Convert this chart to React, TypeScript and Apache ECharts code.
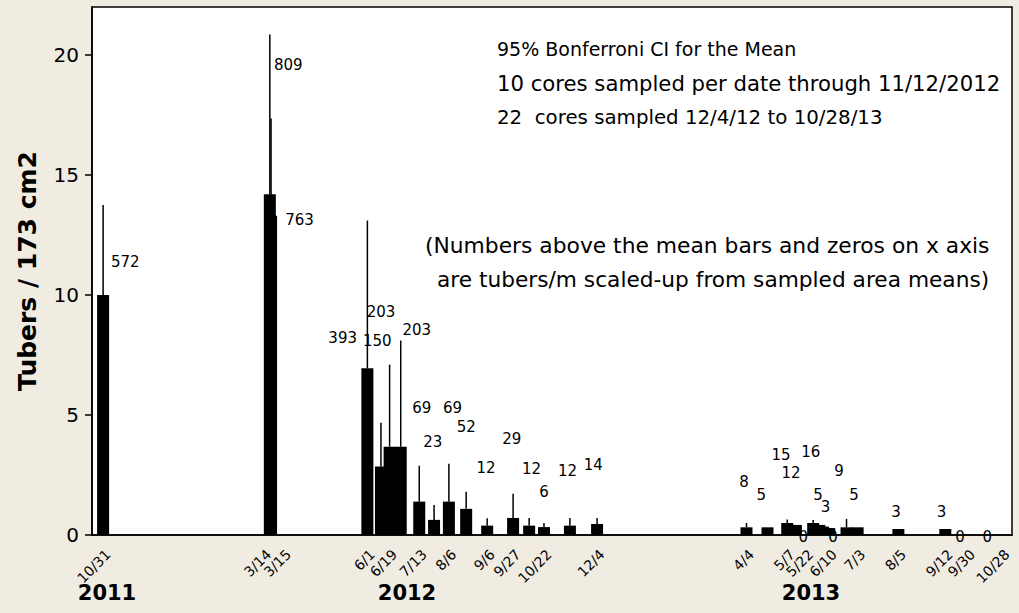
import React, { useEffect, useRef } from "react";
import * as echarts from "echarts";

// ---- data ----
const barDates = [
  "2011-10-31",
  "2012-03-14", "2012-03-15", "2012-06-01", "2012-06-12", "2012-06-19", "2012-06-28",
  "2012-07-13", "2012-07-25", "2012-08-06", "2012-08-20", "2012-09-06", "2012-09-27",
  "2012-10-10", "2012-10-22", "2012-11-12", "2012-12-04",
  "2013-04-04", "2013-04-21", "2013-05-07", "2013-05-14", "2013-05-28", "2013-06-02",
  "2013-06-05", "2013-06-10", "2013-06-24", "2013-07-03", "2013-08-05", "2013-09-12",
];
const barMeans = [
  10.0,
  14.2, 13.3, 6.95, 2.85, 3.68, 3.68,
  1.39, 0.63, 1.39, 1.09, 0.39, 0.71,
  0.39, 0.33, 0.39, 0.46,
  0.32, 0.32, 0.5, 0.42, 0.5, 0.42,
  0.35, 0.29, 0.32, 0.32, 0.25, 0.25,
];
const ciUpper = [
  13.75,
  20.85, 17.35, 13.1, 4.68, 7.1, 8.1,
  2.89, 1.25, 2.97, 1.8, 0.7, 1.72,
  0.71, 0.5, 0.71, 0.71,
  0.5, 0.32, 0.65, 0.42, 0.63, 0.42,
  0.35, 0.29, 0.67, 0.32, 0.25, 0.25,
];

// numbers written above the bars (tubers/m) and where they sit
const valueLabelTexts = [
  "572", "809", "763", "393", "150", "203", "203", "69", "23", "69", "52", "12", "29",
  "12", "6", "12", "14",
  "8", "5", "15", "12", "16", "5", "3", "9", "5", "3", "3", "0", "0", "0", "0",
];
const valueLabelDates = [
  "2011-11-18", "2012-03-29", "2012-04-07", "2012-05-12", "2012-06-09", "2012-06-12", "2012-07-11",
  "2012-07-15", "2012-07-24", "2012-08-09", "2012-08-20", "2012-09-05", "2012-09-26",
  "2012-10-12", "2012-10-22", "2012-11-10", "2012-12-01",
  "2013-04-02", "2013-04-16", "2013-05-02", "2013-05-10", "2013-05-26", "2013-06-01",
  "2013-06-07", "2013-06-18", "2013-06-30", "2013-08-03", "2013-09-09",
  "2013-05-20", "2013-06-13", "2013-09-24", "2013-10-16",
];
const valueLabelY = [
  11.38, 19.6, 13.14, 8.2, 8.08, 9.29, 8.54, 5.31, 3.89, 5.31, 4.48, 2.8, 4.02,
  2.76, 1.8, 2.68, 2.93,
  2.22, 1.67, 3.35, 2.59, 3.47, 1.67, 1.17, 2.68, 1.67, 0.96, 0.96,
  -0.08, -0.08, -0.08, -0.08,
];

// x-axis date labels: text and the date they are anchored at
const tickLabelTexts = [
  "10/31", "3/14", "3/15", "6/1", "6/19", "7/13", "8/6", "9/6", "9/27", "10/22", "12/4",
  "4/4", "5/7", "5/22", "6/10", "7/3", "8/5", "9/12", "9/30", "10/28",
];
const tickLabelDates = [
  "2011-10-31", "2012-03-09", "2012-03-25", "2012-06-01", "2012-06-19", "2012-07-13",
  "2012-08-06", "2012-09-06", "2012-09-27", "2012-10-22", "2012-12-04",
  "2013-04-04", "2013-05-07", "2013-05-22", "2013-06-10", "2013-07-03", "2013-08-05",
  "2013-09-12", "2013-09-30", "2013-10-28",
];

const yTicks = [0, 5, 10, 15, 20];
const yearLabels = ["2011", "2012", "2013"];
const noteLines = [
  "95% Bonferroni CI for the Mean",
  "10 cores sampled per date through 11/12/2012",
  "22  cores sampled 12/4/12 to 10/28/13",
];
const noteLines2 = [
  "(Numbers above the mean bars and zeros on x axis",
  "are tubers/m scaled-up from sampled area means)",
];

const toTs = (s: string) => {
  const [y, m, d] = s.split("-").map(Number);
  return Date.UTC(y, m - 1, d);
};

const FONT = "'DejaVu Sans', Verdana, sans-serif";
const BG = "#f0ece2";

export default function App() {
  const ref = useRef<HTMLDivElement>(null);

  useEffect(() => {
    document.body.style.margin = "0";
    const chart = echarts.init(ref.current!, undefined, { renderer: "svg" });

    const barData = barDates.map((d, i) => [toTs(d), barMeans[i]]);
    const ciData = barDates.map((d, i) => [toTs(d), barMeans[i], ciUpper[i]]);
    const valData = valueLabelDates.map((d, i) => [toTs(d), valueLabelY[i]]);
    const tickData = tickLabelDates.map((d) => [toTs(d), 0]);

    const yearX = [107, 407, 811];
    const noteSizes = [19, 21.2, 19.8];
    const note2Sizes = [21.8, 21.7];

    chart.setOption({
      animation: false,
      backgroundColor: BG,
      textStyle: { fontFamily: FONT },
      grid: {
        left: 92,
        right: 7,
        top: 7,
        bottom: 78,
        show: true,
        backgroundColor: "#ffffff",
        borderColor: "#000",
        borderWidth: 1.5,
      },
      xAxis: {
        type: "value",
        min: toTs("2011-10-22"),
        max: toTs("2013-11-05"),
        axisLine: { show: true, lineStyle: { color: "#000", width: 1.5 } },
        axisTick: { show: false },
        axisLabel: { show: false },
        splitLine: { show: false },
      },
      yAxis: {
        type: "value",
        min: 0,
        max: 22,
        interval: 5,
        name: "Tubers / 173 cm2",
        nameLocation: "middle",
        nameGap: 52,
        nameTextStyle: { fontFamily: FONT, fontSize: 25, fontWeight: "bold", color: "#000" },
        axisLine: { show: true, lineStyle: { color: "#000", width: 1.5 } },
        axisTick: {
          show: true,
          inside: false,
          length: 7,
          customValues: yTicks,
          lineStyle: { color: "#000", width: 1.5 },
        },
        axisLabel: {
          customValues: yTicks,
          fontFamily: FONT,
          fontSize: 20,
          color: "#000",
          margin: 13,
        },
        splitLine: { show: false },
      },
      series: [
        {
          type: "bar",
          data: barData,
          barWidth: 12,
          itemStyle: { color: "#000" },
          z: 2,
        },
        {
          type: "custom",
          data: ciData,
          encode: { x: 0, y: [1, 2] },
          clip: false,
          z: 3,
          renderItem: (params: any, api: any) => {
            const x = api.value(0);
            const lo = api.value(1);
            const hi = api.value(2);
            if (!(hi > lo)) return { type: "group", children: [] };
            const a = api.coord([x, lo]);
            const b = api.coord([x, hi]);
            return {
              type: "line",
              shape: { x1: a[0], y1: a[1], x2: b[0], y2: b[1] },
              style: { stroke: "#000", lineWidth: 1.5 },
            };
          },
        },
        {
          type: "custom",
          data: valData,
          encode: { x: 0, y: 1 },
          clip: false,
          z: 4,
          renderItem: (params: any, api: any) => {
            const p = api.coord([api.value(0), api.value(1)]);
            return {
              type: "text",
              x: p[0],
              y: p[1],
              style: {
                text: valueLabelTexts[params.dataIndex],
                align: "center",
                verticalAlign: "middle",
                font: `15px ${FONT}`,
                fill: "#000",
              },
            };
          },
        },
        {
          type: "custom",
          data: tickData,
          encode: { x: 0, y: 1 },
          clip: false,
          z: 4,
          renderItem: (params: any, api: any) => {
            const p = api.coord([api.value(0), api.value(1)]);
            return {
              type: "text",
              x: p[0] + 5,
              y: p[1] + 17,
              rotation: Math.PI / 4,
              style: {
                text: tickLabelTexts[params.dataIndex],
                align: "right",
                verticalAlign: "middle",
                font: `14px ${FONT}`,
                fill: "#000",
              },
            };
          },
        },
      ],
      graphic: [
        ...yearLabels.map((t, i) => ({
          type: "text",
          x: yearX[i],
          y: 593,
          style: {
            text: t,
            align: "center",
            verticalAlign: "middle",
            font: `bold 21px ${FONT}`,
            fill: "#000",
          },
        })),
        ...noteLines.map((t, i) => ({
          type: "text",
          x: 497,
          y: 49 + i * 34,
          style: {
            text: t,
            align: "left",
            verticalAlign: "middle",
            font: `${noteSizes[i]}px ${FONT}`,
            fill: "#000",
          },
        })),
        ...noteLines2.map((t, i) => ({
          type: "text",
          x: i === 0 ? 425 : 437,
          y: 245 + i * 34,
          style: {
            text: t,
            align: "left",
            verticalAlign: "middle",
            font: `${note2Sizes[i]}px ${FONT}`,
            fill: "#000",
          },
        })),
      ],
    });

    return () => chart.dispose();
  }, []);

  return <div ref={ref} style={{ width: 1019, height: 613, background: BG }} />;
}
